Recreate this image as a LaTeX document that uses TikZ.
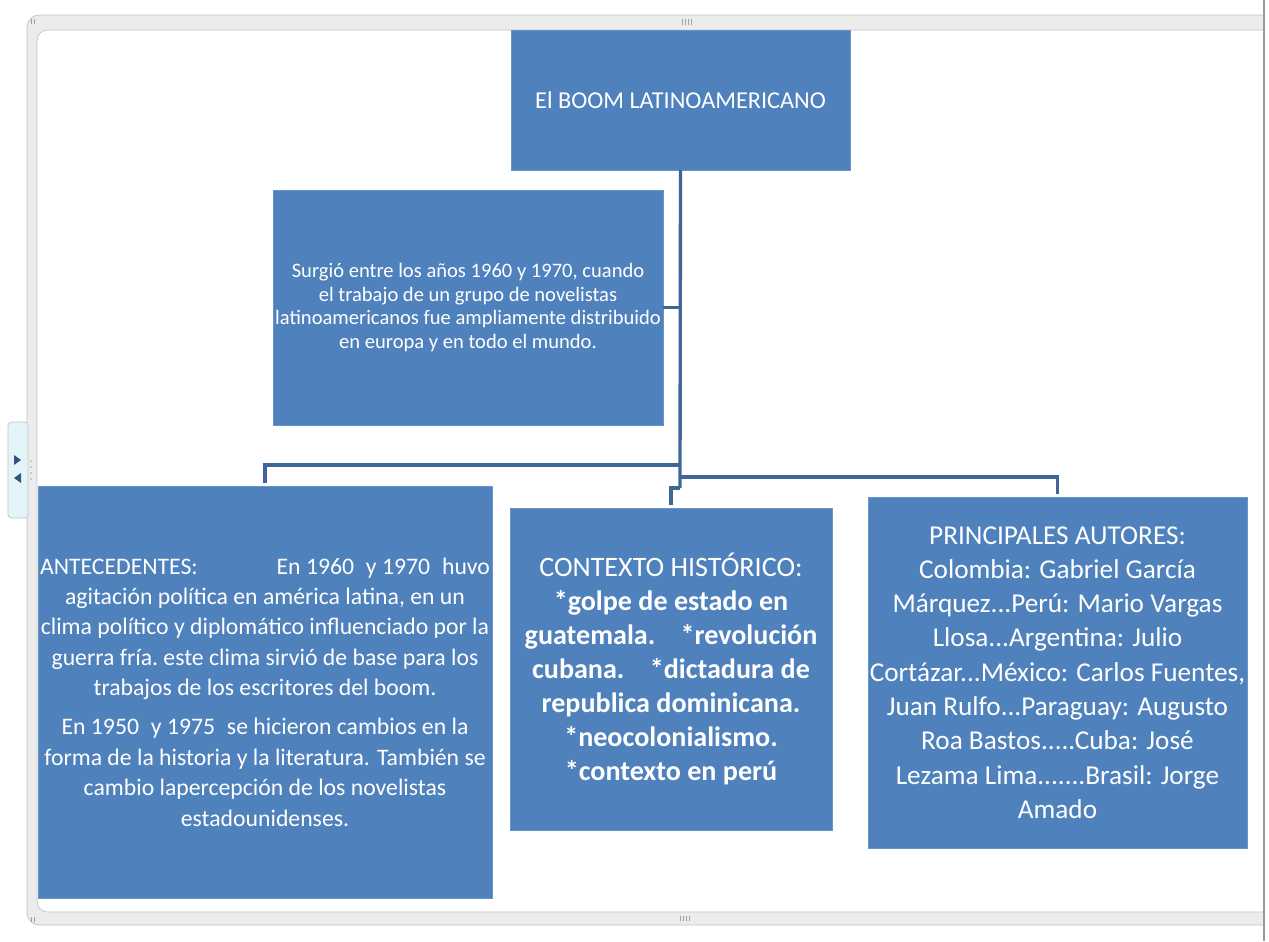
\documentclass[tikz,border=0pt]{standalone}
\usepackage{fontspec}
\setmainfont{Carlito}
\definecolor{boxblue}{HTML}{4F81BD}
\definecolor{linkblue}{HTML}{3E6797}
\definecolor{framegray}{HTML}{ECECEC}
\definecolor{frameline}{HTML}{C2C2C2}
\definecolor{tabcyan}{HTML}{E4F5F9}
\definecolor{tabarrow}{HTML}{2F5680}
\tikzset{
  box/.style={fill=boxblue, draw=boxblue!85!white, line width=0.4pt, text=white,
    align=center, inner sep=0pt, outer sep=0pt},
  link/.style={draw=linkblue, line width=1.9pt},
  tick/.style={draw=gray!75, line width=0.5pt}
}

\begin{document}
\begin{tikzpicture}[x=0.02cm,y=-0.02cm]
\useasboundingbox (0,0) rectangle (1269,941);
\fill[white] (0,0) rectangle (1269,941);
% window frame
\draw[frameline, fill=framegray, rounded corners=7pt] (27,15) rectangle (1290,925);
\draw[frameline, fill=white, rounded corners=6pt] (37,30) rectangle (1290,912);
\fill[white] (1265,0) rectangle (1269,941);
\draw[gray!80, line width=1.6pt] (1264,0) -- (1264,941);
\draw[tick] (682,19) -- (682,25);
\draw[tick] (685,19) -- (685,25);
\draw[tick] (688,19) -- (688,25);
\draw[tick] (691,19) -- (691,25);
\draw[tick] (680,916) -- (680,921);
\draw[tick] (683,916) -- (683,921);
\draw[tick] (686,916) -- (686,921);
\draw[tick] (689,916) -- (689,921);
\draw[tick] (31,19) -- (31,24);
\draw[tick] (34,19) -- (34,24);
\draw[tick] (31,917) -- (31,922);
\draw[tick] (34,917) -- (34,922);
% side tab
\draw[frameline, fill=tabcyan, rounded corners=2pt] (8,422) rectangle (28,518);
\fill[tabarrow] (14,455) -- (21,460) -- (14,465) -- cycle;
\fill[tabarrow] (21,473) -- (14,478) -- (21,483) -- cycle;
\fill[gray!60] (31,461) circle (1);
\fill[gray!60] (31,467) circle (1);
\fill[gray!60] (31,473) circle (1);
\fill[gray!60] (31,479) circle (1);

\node[box, minimum width=6.78cm, minimum height=2.8cm, font=\fontsize{13.8}{16}\selectfont]
  (boom) at (680.5,100) {El BOOM LATINOAMERICANO};
\node[box, minimum width=7.8cm, minimum height=4.7cm, font=\fontsize{11.7}{13.6}\selectfont]
  (desc) at (468,307.5) {Surgió entre los años 1960 y 1970, cuando\\
  el trabajo de un grupo de novelistas\\
  latinoamericanos fue ampliamente distribuido\\
  en europa y en todo el mundo.};
\node[box, minimum width=9.08cm, minimum height=8.24cm, font=\fontsize{13.5}{17.3}\selectfont]
  (ante) at (265,692) {\makebox[9.0cm]{ANTECEDENTES:\hfill En 1960\enspace y 1970\enspace huvo}\\
  agitación política en américa latina, en un\\
  clima político y diplomático influenciado por la\\
  guerra fría.\ este clima sirvió de base para los\\
  trabajos de los escritores del boom.\\[5pt]
  En 1950\enspace y 1975\enspace se hicieron cambios en la\\
  forma de la historia y la literatura. También se\\
  cambio lapercepción de los novelistas\\
  estadounidenses.};
\node[box, minimum width=6.44cm, minimum height=6.44cm, font=\fontsize{16}{19.3}\selectfont]
  (ctx) at (671,669) {CONTEXTO HISTÓRICO:\\
  \textbf{*golpe de estado en}\\
  \textbf{guatemala.\hspace{0.9em}*revolución}\\
  \textbf{cubana.\hspace{0.9em}*dictadura de}\\
  \textbf{republica dominicana.}\\
  \textbf{*neocolonialismo.}\\
  \textbf{*contexto en perú}};
\node[box, minimum width=7.58cm, minimum height=7.02cm, font=\fontsize{15.5}{19.5}\selectfont]
  (autor) at (1057.5,672.5) {PRINCIPALES AUTORES:\\
  Colombia: Gabriel García\\
  Márquez...Perú: Mario Vargas\\
  Llosa...Argentina: Julio\\
  Cortázar...México: Carlos Fuentes,\\
  Juan Rulfo...Paraguay: Augusto\\
  Roa Bastos.....Cuba: José\\
  Lezama Lima.......Brasil: Jorge\\
  Amado};

\coordinate (jl) at (680,465);
\coordinate (jr) at (680,477);
\coordinate (jc) at (680,488);
\draw[link] (boom.south) -- (jc);
\draw[link] (desc.east) -- (desc.east -| jc);
\draw[link, shorten <=2pt] (ante.north) |- (jl);
\draw[link, shorten <=2pt] (autor.north) |- (jr);
\draw[link, shorten <=2pt] (ctx.north) |- (jc);
\end{tikzpicture}
\end{document}
